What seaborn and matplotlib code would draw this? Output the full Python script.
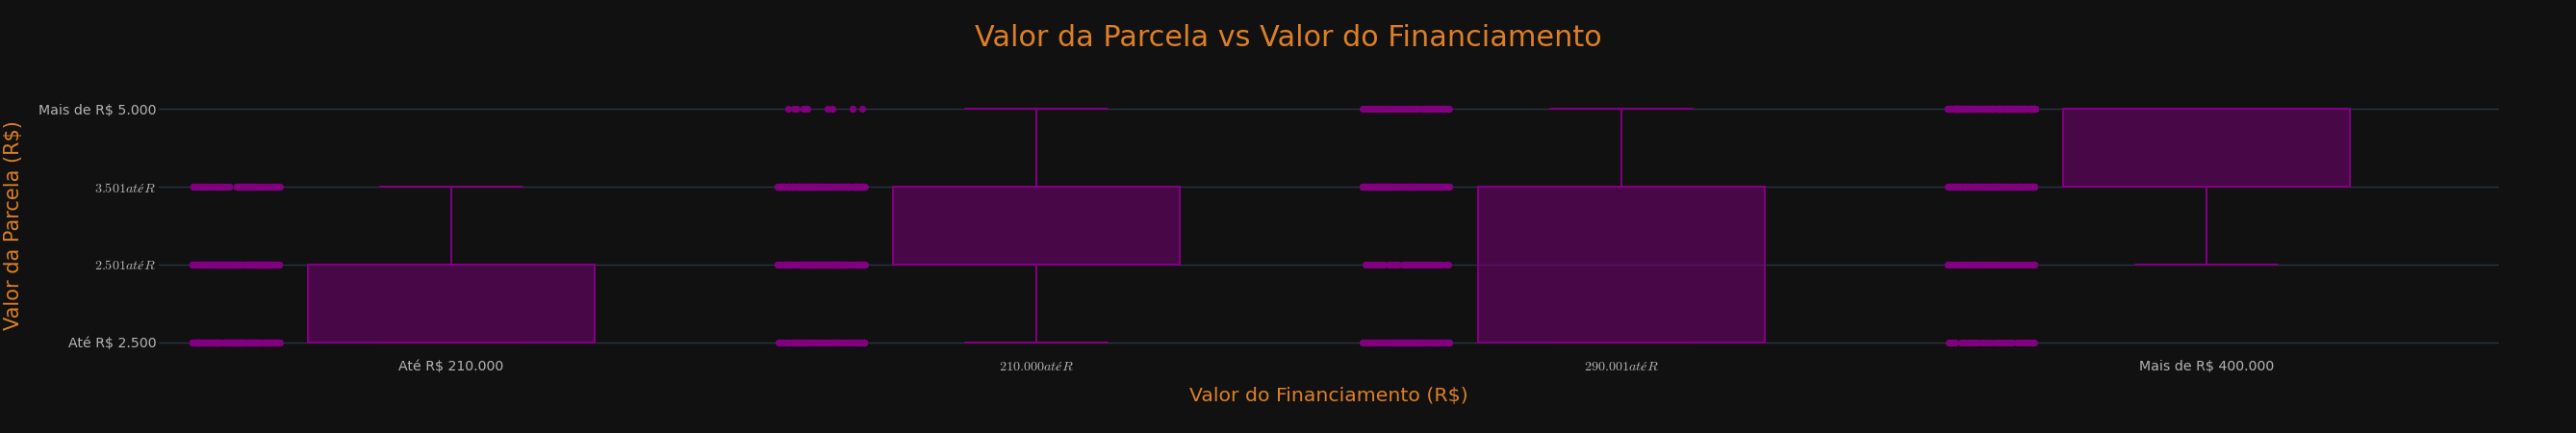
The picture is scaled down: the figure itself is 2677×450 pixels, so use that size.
import numpy as np
import pandas as pd
import matplotlib
matplotlib.use("Agg")
import matplotlib.pyplot as plt
import matplotlib.transforms as mtransforms
import seaborn as sns

# ---------------- data ----------------
financiamento = ["Até R$ 210.000", "R$ 210.000 até R$ 290.000",
                 "R$ 290.001 até R$ 400.000", "Mais de R$ 400.000"]
parcela = ["Até R$ 2.500", "R$ 2.501 até R$ 3.500",
           "R$ 3.501 até R$ 5.000", "Mais de R$ 5.000"]
# number of answers per installment bracket (same order as `parcela`)
contagem_ate_210 = [400, 300, 150, 0]
contagem_210_290 = [150, 300, 350, 12]
contagem_290_400 = [200, 80, 300, 120]
contagem_mais_400 = [60, 100, 250, 350]

titulo = "Valor da Parcela vs Valor do Financiamento"
rotulo_x = "Valor do Financiamento (R$)"
rotulo_y = "Valor da Parcela (R$)"

# ---------------- build long table ----------------
contagens = [contagem_ate_210, contagem_210_290, contagem_290_400, contagem_mais_400]
rows_fin, rows_par = [], []
for fin, cnts in zip(financiamento, contagens):
    for code, n in enumerate(cnts):
        rows_fin += [fin] * n
        rows_par += [code] * n
df = pd.DataFrame({"financiamento": rows_fin, "parcela": rows_par})


def plotly_label(s):
    """Mimic the way the original renderer treated text between two '$' as math."""
    if s.count("$") >= 2:
        a = s.index("$")
        b = s.index("$", a + 1)
        return "$" + s[a + 1:b].strip() + "$"
    return s


# ---------------- style ----------------
BG = "#111111"
GRID = "#283442"
PURPLE = "#800080"
ORANGE = "#dc7f27"
TICK = "#b4b4b4"

sns.set_theme(style="dark")
plt.rcParams["font.family"] = ["DejaVu Sans"]
plt.rcParams["mathtext.fontset"] = "cm"

W, H = 2677, 450
fig = plt.figure(figsize=(W / 100, H / 100), dpi=100, facecolor=BG)
left, right, top, bottom = 165, 2597, 103, 366
ax = fig.add_axes([left / W, 1 - bottom / H, (right - left) / W, (bottom - top) / H])
ax.set_facecolor(BG)

sns.boxplot(data=df, x="financiamento", y="parcela", order=financiamento,
            width=0.49, whis=1.5, showfliers=False, color=PURPLE,
            linecolor=PURPLE, linewidth=1.5, saturation=1, ax=ax, zorder=3)
for p in ax.patches:
    p.set_facecolor((0.5, 0.0, 0.5, 0.5))
    p.set_edgecolor(PURPLE)

n_before = len(ax.collections)
np.random.seed(3)
sns.stripplot(data=df, x="financiamento", y="parcela", order=financiamento,
              jitter=0.075, size=5.2, color=PURPLE, linewidth=0, ax=ax, zorder=4)
shift = mtransforms.Affine2D().translate(-0.368, 0) + ax.transData
for c in ax.collections[n_before:]:
    c.set_offset_transform(shift)

ax.set_xlim(-0.5, 3.5)
ax.set_ylim(-0.1235, 3.1235)
ax.set_yticks(range(len(parcela)))
ax.set_yticklabels([plotly_label(s) for s in parcela])
ax.set_xticks(range(len(financiamento)))
ax.set_xticklabels([plotly_label(s) for s in financiamento])

for s in ax.spines.values():
    s.set_visible(False)
ax.grid(False)
ax.yaxis.grid(True, color=GRID, linewidth=1.0, zorder=0)
ax.set_axisbelow(True)
ax.tick_params(axis="both", length=0, colors=TICK, labelsize=10.2)
ax.tick_params(axis="y", pad=2)
ax.tick_params(axis="x", pad=6)

ax.set_xlabel(rotulo_x, color=ORANGE, fontsize=14.7, va="center")
ax.xaxis.set_label_coords(0.5, (bottom - 411) / (bottom - top))
ax.set_ylabel(rotulo_y, color=ORANGE, fontsize=15, va="center")
ax.yaxis.set_label_coords((14 - left) / (right - left), 0.5)

fig.text(0.5, 1 - 40 / H, titulo, ha="center", va="center", color=ORANGE, fontsize=21.8)

fig.savefig("out.png", dpi=100, facecolor=BG)
